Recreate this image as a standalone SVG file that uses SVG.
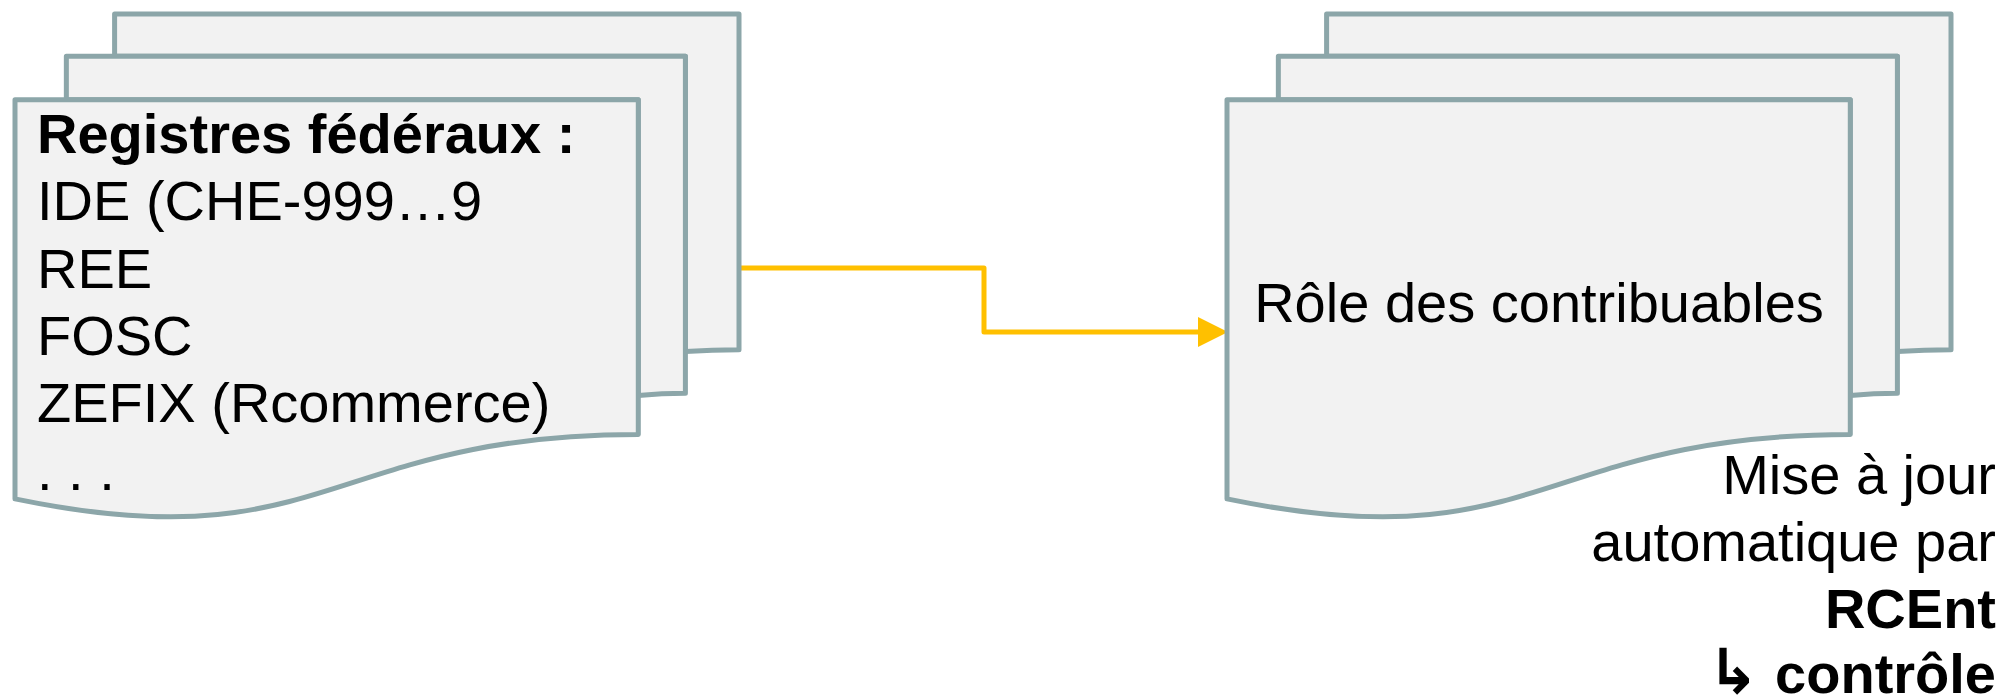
<svg xmlns="http://www.w3.org/2000/svg" width="2004" height="699" viewBox="0 0 2004 699">
  <style>
    .page { fill: #F2F2F2; stroke: #8CA6A9; stroke-width: 5; stroke-linejoin: round; }
    .txt { font-family: "Liberation Sans", Arial, sans-serif; font-size: 56px; fill: #000000; }
    .b { font-weight: bold; }
    .sym { font-family: "DejaVu Sans", sans-serif; font-weight: bold; font-size: 62px; }
    .conn { fill: none; stroke: #FFC000; stroke-width: 5; stroke-linejoin: round; }
  </style>
  <defs>
    <g id="multidoc">
      <path class="page" d="M 99.6,42.35 L 99.6,0 L 724,0 L 724,335.8 C 697.2,335.8 670.4,337.6 670.4,337.6 L 670.4,42.35 Z"/>
      <path class="page" d="M 51.35,85.75 L 51.35,42.35 L 670.4,42.35 L 670.4,379.2 C 646.9,379.2 623.3,381.5 623.3,381.5 L 623.3,85.75 Z"/>
      <path class="page" d="M 0,484.9 C 311.7,549.3 311.7,420.5 623.3,420.5 L 623.3,85.75 L 0,85.75 Z"/>
    </g>
    <marker id="arrow" viewBox="0 0 30 30" refX="2" refY="15" markerWidth="30" markerHeight="30" markerUnits="userSpaceOnUse" orient="auto">
      <path d="M 0,0 L 30,15 L 0,30 Z" fill="#FFC000"/>
    </marker>
  </defs>

  <g id="connectors">
    <path class="conn" d="M 740,268 H 984 V 332 H 1200" marker-end="url(#arrow)"/>
  </g>

  <g id="registres">
    <use href="#multidoc" transform="translate(15,14)"/>
    <text class="txt b" x="37" y="153">Registres fédéraux :</text>
    <text class="txt" x="37" y="220.3">IDE (CHE-999…9</text>
    <text class="txt" x="37" y="287.6">REE</text>
    <text class="txt" x="37" y="354.9">FOSC</text>
    <text class="txt" x="37" y="422.2">ZEFIX (Rcommerce)</text>
    <text class="txt" x="37" y="489.5">. . .</text>
  </g>

  <g id="role">
    <use href="#multidoc" transform="translate(1227,14)"/>
    <text class="txt" x="1539" y="322" text-anchor="middle">Rôle des contribuables</text>
  </g>

  <g id="note">
    <text class="txt" x="1996" y="494" text-anchor="end">Mise à jour</text>
    <text class="txt" x="1996" y="561" text-anchor="end">automatique par</text>
    <text class="txt b" x="1996" y="628" text-anchor="end">RCEnt</text>
    <text class="txt b" x="1996" y="693" text-anchor="end"><tspan class="sym">↳</tspan> contrôle</text>
  </g>
</svg>
